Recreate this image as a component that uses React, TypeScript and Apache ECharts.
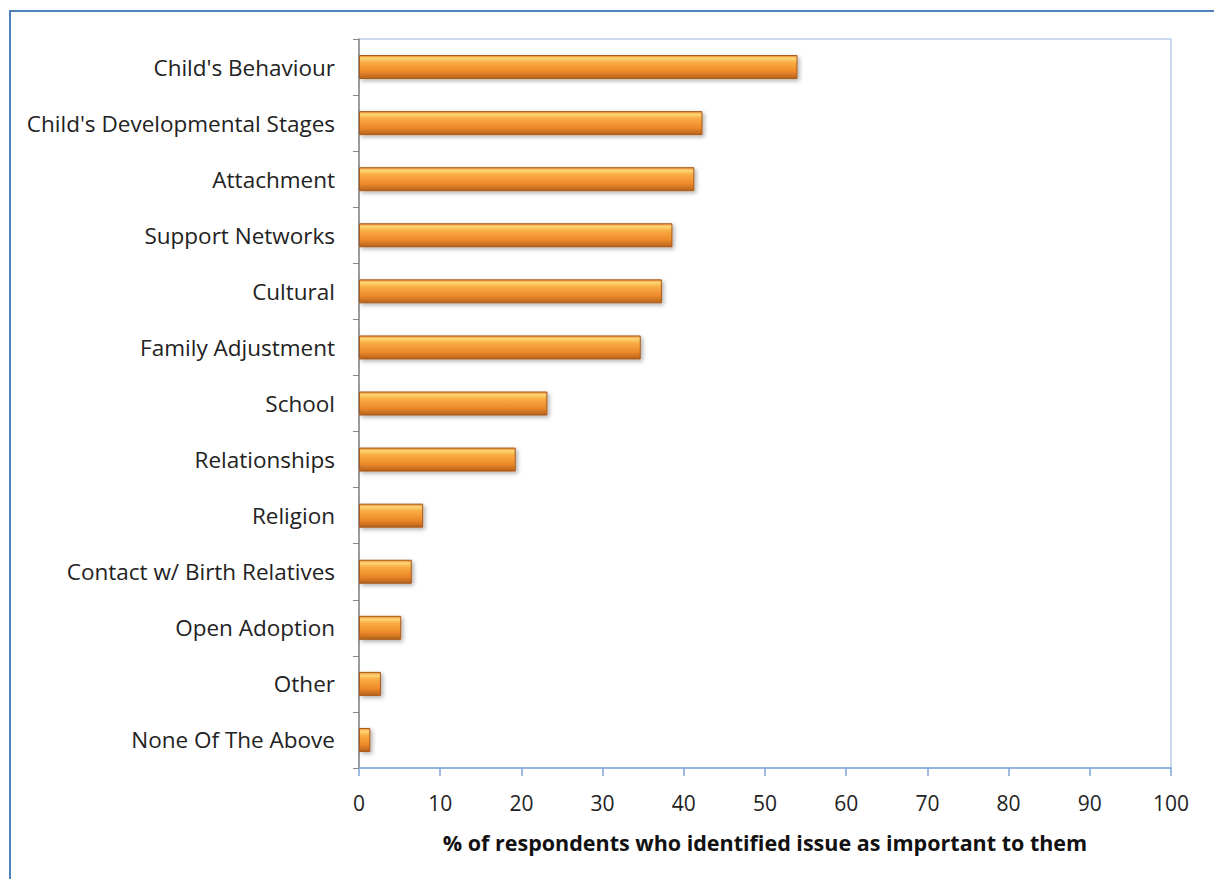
import React, { useEffect, useRef } from "react";
import * as echarts from "echarts";

const categories = [
  "Child's Behaviour",
  "Child's Developmental Stages",
  "Attachment",
  "Support Networks",
  "Cultural",
  "Family Adjustment",
  "School",
  "Relationships",
  "Religion",
  "Contact w/ Birth Relatives",
  "Open Adoption",
  "Other",
  "None Of The Above",
];
const values = [54.0, 42.3, 41.3, 38.6, 37.3, 34.7, 23.2, 19.3, 7.9, 6.5, 5.2, 2.7, 1.4];
const xAxisTitle = "% of respondents who identified issue as important to them";

export default function App() {
  const ref = useRef<HTMLDivElement>(null);
  useEffect(() => {
    if (!ref.current) return;
    const chart = echarts.init(ref.current, null, { renderer: "svg" });
    const font = "'Open Sans', Lato, sans-serif";
    chart.setOption({
      animation: false,
      backgroundColor: "#ffffff",
      graphic: [
        {
          type: "rect",
          shape: { x: 10, y: 11, width: 1400, height: 1000 },
          style: { fill: "none", stroke: "#4F81BD", lineWidth: 2 },
          silent: true,
        },
      ],
      grid: {
        left: 359,
        right: 1214 - 1171,
        top: 39,
        bottom: 879 - 768,
        show: true,
        borderColor: "#95B3D7",
        borderWidth: 1,
      },
      xAxis: {
        type: "value",
        min: 0,
        max: 100,
        interval: 10,
        name: xAxisTitle,
        nameLocation: "middle",
        nameGap: 63,
        nameTextStyle: { fontFamily: font, fontWeight: "bold", fontSize: 21.5, color: "#111" },
        axisLine: { show: true, lineStyle: { color: "#7EA6D8", width: 1.5 } },
        axisTick: { show: true, length: 8, inside: false, lineStyle: { color: "#7EA6D8", width: 1.5 } },
        axisLabel: { fontFamily: font, fontSize: 21, color: "#222", margin: 24 },
        splitLine: { show: false },
      },
      yAxis: {
        type: "category",
        data: categories,
        inverse: true,
        axisLine: { show: true, lineStyle: { color: "#888", width: 1.5 } },
        axisTick: { show: true, length: 6, lineStyle: { color: "#888" } },
        axisLabel: { fontFamily: font, fontSize: 22.5, color: "#222", margin: 24 },
        splitLine: { show: false },
      },
      series: [
        {
          type: "bar",
          data: values,
          barWidth: 24,
          itemStyle: {
            color: new echarts.graphic.LinearGradient(0, 0, 0, 1, [
              { offset: 0, color: "#EC8E30" },
              { offset: 0.12, color: "#FFD676" },
              { offset: 0.3, color: "#F9AC44" },
              { offset: 0.7, color: "#EE892A" },
              { offset: 1, color: "#B5621C" },
            ]),
            borderColor: "#A8591A",
            borderWidth: 1,
            shadowBlur: 4,
            shadowColor: "rgba(0,0,0,0.3)",
            shadowOffsetX: 2,
            shadowOffsetY: 2,
          },
        },
      ],
    });
    return () => chart.dispose();
  }, []);
  return (
    <div
      ref={ref}
      style={{ position: "fixed", left: 0, top: 0, width: 1214, height: 879 }}
    />
  );
}
